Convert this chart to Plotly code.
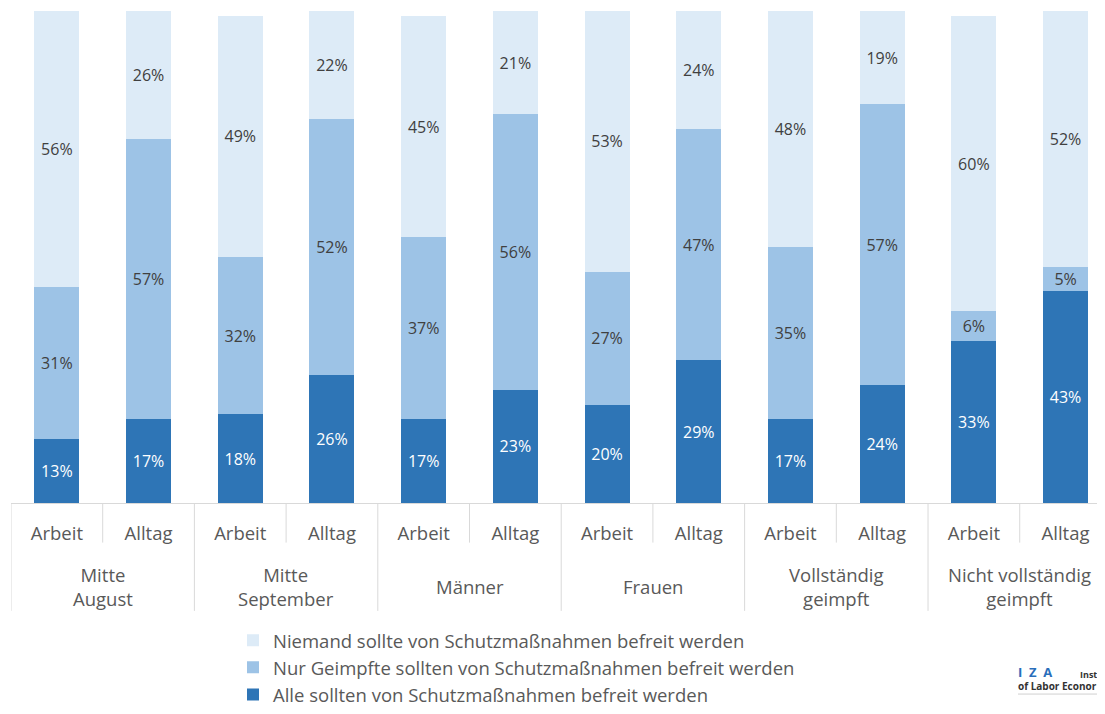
import plotly.graph_objects as go

# ---- data ----
sub_labels = ["Arbeit", "Alltag"] * 6
group_labels = ["Mitte<br>August", "Mitte<br>September", "Männer", "Frauen",
                "Vollständig<br>geimpft", "Nicht vollständig<br>geimpft"]
alle = [13, 17, 18, 26, 17, 23, 20, 29, 17, 24, 33, 43]
nur_geimpfte = [31, 57, 32, 52, 37, 56, 27, 47, 35, 57, 6, 5]
niemand = [56, 26, 49, 22, 45, 21, 53, 24, 48, 19, 60, 52]

series_names = [
    "Alle sollten von Schutzmaßnahmen befreit werden",
    "Nur Geimpfte sollten von Schutzmaßnahmen befreit werden",
    "Niemand sollte von Schutzmaßnahmen befreit werden",
]
series_values = [alle, nur_geimpfte, niemand]
series_colors = ["#2E75B6", "#9DC3E6", "#DDEBF7"]
text_colors = ["#FFFFFF", "#404040", "#404040"]

FONT = "Open Sans"
LABEL_COLOR = "#595959"
x = list(range(len(sub_labels)))

fig = go.Figure()
for i, (name, vals, col, tcol) in enumerate(zip(series_names, series_values, series_colors, text_colors)):
    fig.add_trace(go.Bar(
        x=x, y=vals, name=name,
        marker=dict(color=col, line=dict(width=0)),
        texttemplate="%{y}%", textposition="inside", insidetextanchor="middle",
        textangle=0, constraintext="none",
        textfont=dict(family=FONT, size=16, color=tcol),
        legendgroup=f"g{i}", hoverinfo="skip",
    ))

# the page body has an 8px margin; plot area spans page x 11..1105, y 11..508
PLOT_W = 1094
PLOT_H = 497
def py(px_below):
    return -px_below / PLOT_H
def pxp(page_x):
    return (page_x - 11) / PLOT_W

shapes = []
shapes.append(dict(type="line", xref="x", yref="paper", x0=-0.5, x1=-0.5,
                   y0=0, y1=py(109), line=dict(color="#D9D9D9", width=1)))
for k in range(len(x) - 1):
    b = k + 0.5
    long_line = (k % 2 == 1)
    shapes.append(dict(type="line", xref="x", yref="paper", x0=b, x1=b,
                       y0=0, y1=py(109 if long_line else 40),
                       line=dict(color="#D9D9D9", width=1)))
# faint rule under logo
shapes.append(dict(type="line", xref="paper", yref="paper", x0=pxp(1018), x1=pxp(1105),
                   y0=py(193), y1=py(193), line=dict(color="#D0D0D0", width=1)))

annotations = []
for g, lab in enumerate(group_labels):
    annotations.append(dict(x=2 * g + 0.5, xref="x", y=py(84), yref="paper",
                            text=lab, showarrow=False, yanchor="middle",
                            font=dict(family=FONT, size=18.5, color=LABEL_COLOR)))

# logo text (cut at the right edge as in the reference)
annotations += [
    dict(xref="paper", yref="paper", x=pxp(1016), y=py(171), xanchor="left", yanchor="middle",
         text="<b>I  Z  A</b>", showarrow=False, font=dict(family=FONT, size=13, color="#2A6EBB")),
    dict(xref="paper", yref="paper", x=pxp(1078), y=py(173), xanchor="left", yanchor="middle",
         text="<b>Instit</b>", showarrow=False, font=dict(family=FONT, size=9, color="#333333")),
    dict(xref="paper", yref="paper", x=pxp(1016), y=py(185), xanchor="left", yanchor="middle",
         text="<b>of Labor Econor</b>", showarrow=False, font=dict(family=FONT, size=10, color="#333333")),
]

fig.update_layout(
    width=1097, height=706,
    margin=dict(l=3, r=0, t=3, b=206),
    paper_bgcolor="white", plot_bgcolor="white",
    barmode="stack", bargap=0.51,
    font=dict(family=FONT, color=LABEL_COLOR),
    showlegend=True,
    legend=dict(x=pxp(233), xanchor="left", y=py(120), yanchor="top",
                traceorder="reversed", tracegroupgap=10,
                font=dict(family=FONT, size=18.5, color=LABEL_COLOR),
                bgcolor="rgba(0,0,0,0)", itemwidth=30),
    shapes=shapes,
    annotations=annotations,
    xaxis=dict(range=[-0.5, 11.43], tickmode="array", tickvals=x, ticktext=sub_labels,
               showgrid=False, zeroline=False, showline=True, linecolor="#D9D9D9", linewidth=1,
               ticks="", tickfont=dict(family=FONT, size=18.5, color=LABEL_COLOR),
               ticklabelstandoff=14, fixedrange=True),
    yaxis=dict(range=[0, 100], visible=False, showgrid=False, zeroline=False, fixedrange=True),
)

fig.write_html("out.html")
